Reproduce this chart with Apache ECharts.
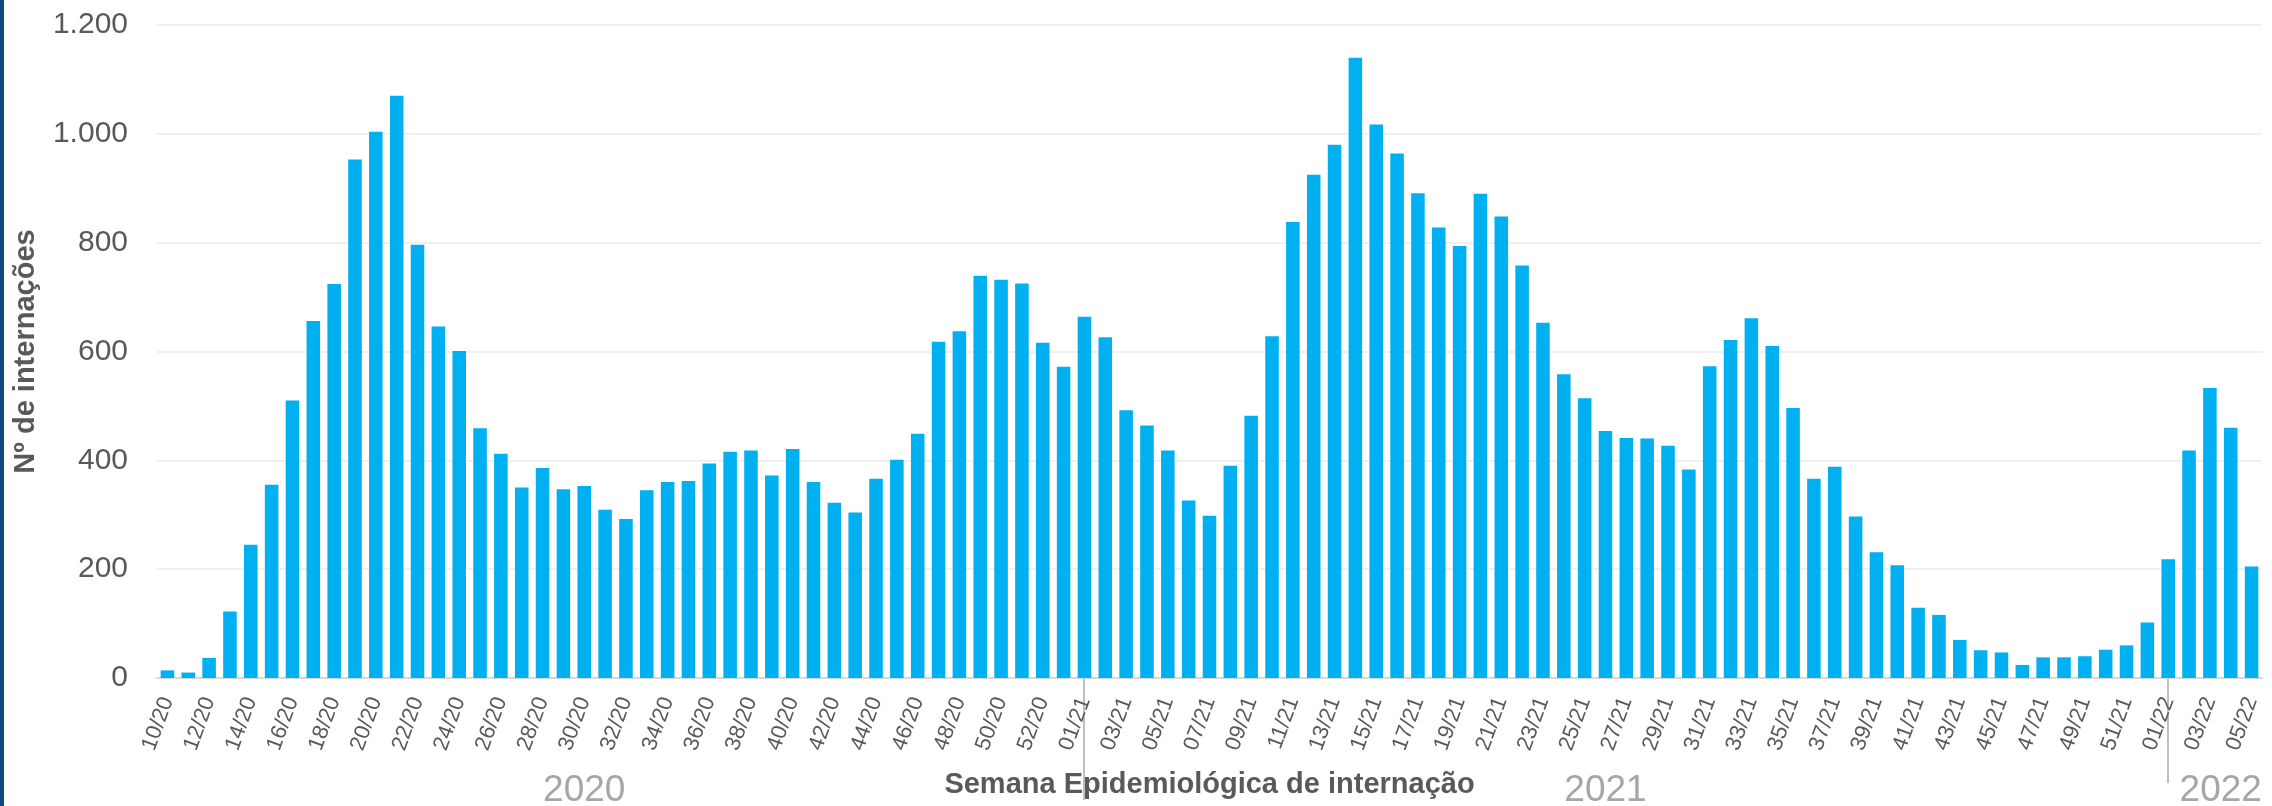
<!DOCTYPE html>
<html>
<head>
<meta charset="utf-8">
<script src="https://cdn.jsdelivr.net/npm/echarts@6/dist/echarts.min.js"></script>
<style>
  html, body { margin: 0; padding: 0; background: #fff; }
  #chart { width: 2272px; height: 806px; }
  #stripe { position: absolute; left: 0; top: 0; width: 4px; height: 806px; background: #0b4a80; z-index: 2; }
</style>
</head>
<body>
<div id="stripe"></div>
<div id="chart"></div>
<script>
// semanas epidemiológicas
var weeks2020 = [];
for (var w = 10; w <= 53; w++) weeks2020.push(w + "/20");
var weeks2021 = [];
for (var w = 1; w <= 52; w++) weeks2021.push((w < 10 ? "0" : "") + w + "/21");
var weeks2022 = ["01/22", "02/22", "03/22", "04/22", "05/22"];

var values2020 = [14, 10, 37, 122, 245, 355, 510, 656, 724, 953, 1004, 1070, 796, 646, 601, 459, 412, 350, 386, 347,
  353, 309, 292, 345, 360, 362, 394, 416, 418, 372, 421, 360, 322, 304, 366, 401, 449, 618, 637, 739, 732, 725, 616, 572];
var values2021 = [664, 626, 492, 464, 418, 326, 298, 390, 482, 628, 838, 925, 980, 1140, 1017, 964, 891, 828, 794, 890,
  848, 758, 653, 558, 514, 454, 441, 440, 427, 383, 573, 621, 661, 610, 496, 366, 388, 297, 231, 207, 129, 116, 70, 51,
  47, 24, 38, 38, 40, 52, 60, 102];
var values2022 = [218, 418, 533, 460, 205];

var yTicks = [0, 200, 400, 600, 800, 1000, 1200];

// rótulos de ano: texto, semana onde fica centrado, semana que abre o ano (linha)
var yearLabels = ["2020", "2021", "2022"];
var yearAnchor = ["30/20", "26/21", "03/22"];
var yearStart = [null, "01/21", "01/22"];

var categories = weeks2020.concat(weeks2021, weeks2022);
var values = values2020.concat(values2021, values2022);

var font = "Liberation Sans, Arial, sans-serif";
var myChart = echarts.init(document.getElementById("chart"));

function fmt(v) {
  return String(v).replace(/\B(?=(\d{3})+(?!\d))/g, ".");
}

myChart.setOption({
  animation: false,
  textStyle: { fontFamily: font },
  grid: { left: 157, right: 10, top: 25, bottom: 128 },
  xAxis: {
    type: "category",
    data: categories,
    name: "Semana Epidemiológica de internação",
    nameLocation: "middle",
    nameGap: 92,
    nameTextStyle: { fontSize: 29, fontWeight: "bold", color: "#595959" },
    axisLine: { lineStyle: { color: "#d9d9d9", width: 2 } },
    axisTick: { show: false },
    axisLabel: { interval: 1, rotate: 70, fontSize: 22, color: "#595959", margin: 20 }
  },
  yAxis: {
    type: "value",
    min: yTicks[0],
    max: yTicks[yTicks.length - 1],
    interval: 200,
    name: "Nº de internações",
    nameLocation: "middle",
    nameGap: 117,
    nameTextStyle: { fontSize: 29, fontWeight: "bold", color: "#595959" },
    axisLine: { show: false },
    axisTick: { show: false },
    splitLine: { lineStyle: { color: "#f0f0f0", width: 2 } },
    axisLabel: { fontSize: 30, color: "#595959", margin: 29, formatter: fmt }
  },
  series: [
    {
      type: "bar",
      data: values,
      barCategoryGap: "35%",
      itemStyle: { color: "#00b0f0" }
    }
  ]
});

// linhas de separação dos anos e rótulos, posicionados pela escala do eixo
var bottomY = myChart.convertToPixel({ yAxisIndex: 0 }, 0);
var graphics = [];
yearLabels.forEach(function (txt, i) {
  var x = myChart.convertToPixel({ xAxisIndex: 0 }, yearAnchor[i]);
  if (i === 2) x = x + myChart.convertToPixel({ xAxisIndex: 0 }, "04/22") - myChart.convertToPixel({ xAxisIndex: 0 }, "03/22") - 10;
  graphics.push({
    type: "text",
    x: x,
    y: 791,
    style: { text: txt, font: "37px " + font, fill: "#a6a6a6", align: "center", verticalAlign: "middle" }
  });
  if (yearStart[i]) {
    var lx = Math.round(myChart.convertToPixel({ xAxisIndex: 0 }, yearStart[i]));
    graphics.push({
      type: "line",
      shape: { x1: lx, y1: bottomY, x2: lx, y2: i === 1 ? 800 : 783 },
      style: { stroke: "#bfbfbf", lineWidth: 2 }
    });
  }
});
myChart.setOption({ graphic: graphics });
</script>
</body>
</html>
